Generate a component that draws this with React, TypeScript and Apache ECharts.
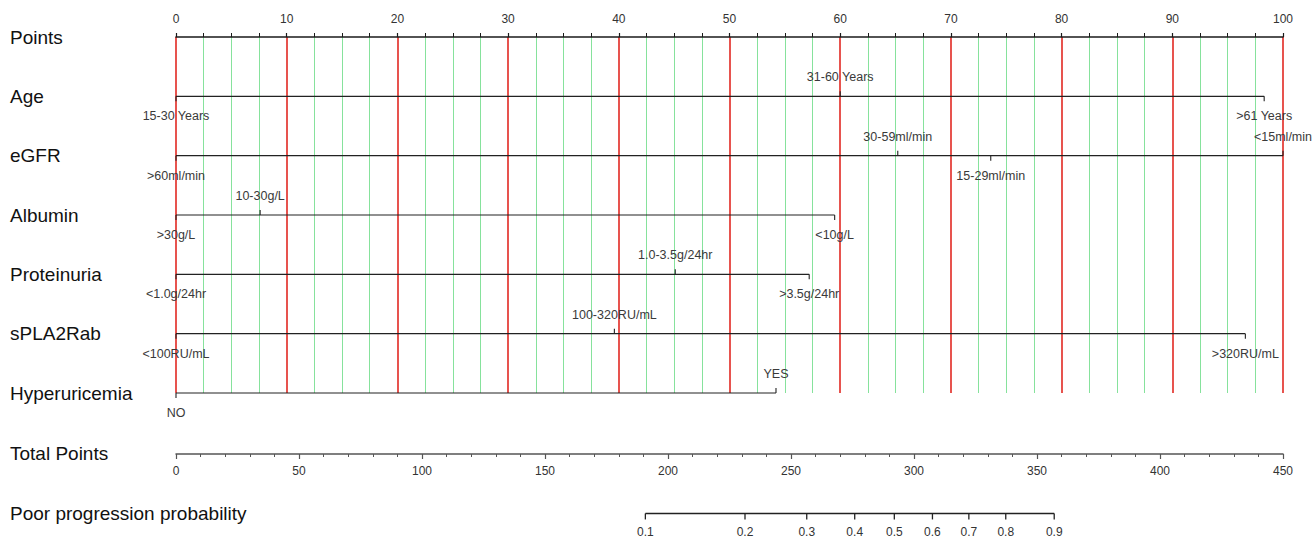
import React, { useEffect, useRef } from "react";
import * as echarts from "echarts";

// Row labels (left side) and their vertical slots (row index on the hidden y axis)
const rowNames = [
  "Points",
  "Age",
  "eGFR",
  "Albumin",
  "Proteinuria",
  "sPLA2Rab",
  "Hyperuricemia",
  "Total Points",
  "Poor progression probability",
];
const rowSlots = [0, 1, 2, 3, 4, 5, 6, 7.02, 8.03];

// Variable levels and their points (0-100 scale)
const ageLevels = ["15-30 Years", "31-60 Years", ">61 Years"];
const agePoints = [0, 60.0, 98.3];

const egfrLevels = [">60ml/min", "30-59ml/min", "15-29ml/min", "<15ml/min"];
const egfrPoints = [0, 65.2, 73.6, 100];

const albuminLevels = [">30g/L", "10-30g/L", "<10g/L"];
const albuminPoints = [0, 7.6, 59.5];

const proteinuriaLevels = ["<1.0g/24hr", "1.0-3.5g/24hr", ">3.5g/24hr"];
const proteinuriaPoints = [0, 45.1, 57.2];

const spla2Levels = ["<100RU/mL", "100-320RU/mL", ">320RU/mL"];
const spla2Points = [0, 39.6, 96.6];

const hyperuricemiaLevels = ["NO", "YES"];
const hyperuricemiaPoints = [0, 54.2];

const variableLevels = [ageLevels, egfrLevels, albuminLevels, proteinuriaLevels, spla2Levels, hyperuricemiaLevels];
const variablePoints = [agePoints, egfrPoints, albuminPoints, proteinuriaPoints, spla2Points, hyperuricemiaPoints];

// Probability scale: tick labels and their total-points positions
const probTicks = ["0.1", "0.2", "0.3", "0.4", "0.5", "0.6", "0.7", "0.8", "0.9"];
const probTotalPoints = [190.8, 231.3, 256.4, 275.9, 292.0, 307.5, 322.3, 337.3, 357.0];

const FONT = '"Liberation Sans", Arial, Helvetica, sans-serif';

export default function App() {
  const ref = useRef<HTMLDivElement>(null);

  useEffect(() => {
    if (!ref.current) return;
    const chart = echarts.init(ref.current, undefined, { renderer: "svg" });

    const option: any = {
      animation: false,
      backgroundColor: "#ffffff",
      grid: { left: 176, right: 33, top: 37, bottom: 147, containLabel: false },
      xAxis: [
        {
          type: "value",
          position: "top",
          min: 0,
          max: 100,
          interval: 10,
          axisLine: { show: true, lineStyle: { color: "#1a1a1a", width: 1.6 } },
          axisTick: { show: true, length: 4, lineStyle: { color: "#1a1a1a", width: 1.2 } },
          minorTick: { show: true, splitNumber: 4, length: 4, lineStyle: { color: "#1a1a1a", width: 1 } },
          axisLabel: { margin: 12, fontSize: 12, color: "#333", fontFamily: FONT },
          splitLine: { show: true, lineStyle: { color: "#e5413b", width: 1.8 } },
          minorSplitLine: { show: true, lineStyle: { color: "#86e29c", width: 1 } },
        },
        {
          type: "value",
          position: "bottom",
          offset: 61,
          min: 0,
          max: 450,
          interval: 50,
          axisLine: { show: true, lineStyle: { color: "#555", width: 1.5 } },
          axisTick: { show: true, length: 5, lineStyle: { color: "#555", width: 1.2 } },
          minorTick: { show: true, splitNumber: 5, length: 3, lineStyle: { color: "#555", width: 1 } },
          axisLabel: { margin: 11, fontSize: 12, color: "#333", fontFamily: FONT },
          splitLine: { show: false },
        },
      ],
      yAxis: {
        type: "value",
        min: 0,
        max: 6,
        inverse: true,
        show: false,
        splitLine: { show: false },
      },
      series: [
        {
          type: "custom",
          name: "variables",
          xAxisIndex: 0,
          yAxisIndex: 0,
          clip: false,
          data: variableLevels.map((_, i) => [0, i + 1]),
          renderItem: (params: any, api: any) => {
            const i = params.dataIndex;
            const levels = variableLevels[i];
            const pts = variablePoints[i];
            const row = api.value(1);
            const y = api.coord([0, row])[1];
            const xs = pts.map((p) => api.coord([p, row])[0]);
            const children: any[] = [];
            children.push({
              type: "line",
              shape: { x1: Math.min(...xs), y1: y, x2: Math.max(...xs), y2: y },
              style: { stroke: "#222", lineWidth: 1.1 },
            });
            levels.forEach((lab, k) => {
              const above = k % 2 === 1;
              children.push({
                type: "line",
                shape: { x1: xs[k], y1: y, x2: xs[k], y2: above ? y - 5 : y + 5 },
                style: { stroke: "#222", lineWidth: 1.1 },
              });
              children.push({
                type: "text",
                x: xs[k],
                y: above ? y - 19 : y + 20,
                style: {
                  text: lab,
                  fontSize: 12.5,
                  fontFamily: FONT,
                  fill: "#3a3a3a",
                  align: "center",
                  verticalAlign: "middle",
                },
              });
            });
            return { type: "group", children };
          },
        },
        {
          type: "custom",
          name: "probability",
          xAxisIndex: 1,
          yAxisIndex: 0,
          clip: false,
          data: [[probTotalPoints[0], rowSlots[8]]],
          renderItem: (params: any, api: any) => {
            const row = api.value(1);
            const y = api.coord([0, row])[1];
            const xs = probTotalPoints.map((p) => api.coord([p, row])[0]);
            const children: any[] = [];
            children.push({
              type: "line",
              shape: { x1: xs[0], y1: y, x2: xs[xs.length - 1], y2: y },
              style: { stroke: "#222", lineWidth: 1.5 },
            });
            probTicks.forEach((lab, k) => {
              children.push({
                type: "line",
                shape: { x1: xs[k], y1: y, x2: xs[k], y2: y + 6 },
                style: { stroke: "#222", lineWidth: 1.3 },
              });
              children.push({
                type: "text",
                x: xs[k],
                y: y + 19,
                style: {
                  text: lab,
                  fontSize: 12,
                  fontFamily: FONT,
                  fill: "#333",
                  align: "center",
                  verticalAlign: "middle",
                },
              });
            });
            return { type: "group", children };
          },
        },
        {
          type: "custom",
          name: "rowLabels",
          xAxisIndex: 0,
          yAxisIndex: 0,
          clip: false,
          data: rowSlots.map((s) => [0, s]),
          renderItem: (params: any, api: any) => {
            const y = api.coord([0, api.value(1)])[1];
            return {
              type: "text",
              x: 10,
              y: y,
              style: {
                text: rowNames[params.dataIndex],
                fontSize: 19,
                fontFamily: FONT,
                fill: "#111",
                align: "left",
                verticalAlign: "middle",
              },
            };
          },
        },
      ],
    };

    chart.setOption(option);
    return () => chart.dispose();
  }, []);

  return (
    <div
      ref={ref}
      style={{ position: "absolute", left: 0, top: 0, width: 1316, height: 540, background: "#fff" }}
    />
  );
}
